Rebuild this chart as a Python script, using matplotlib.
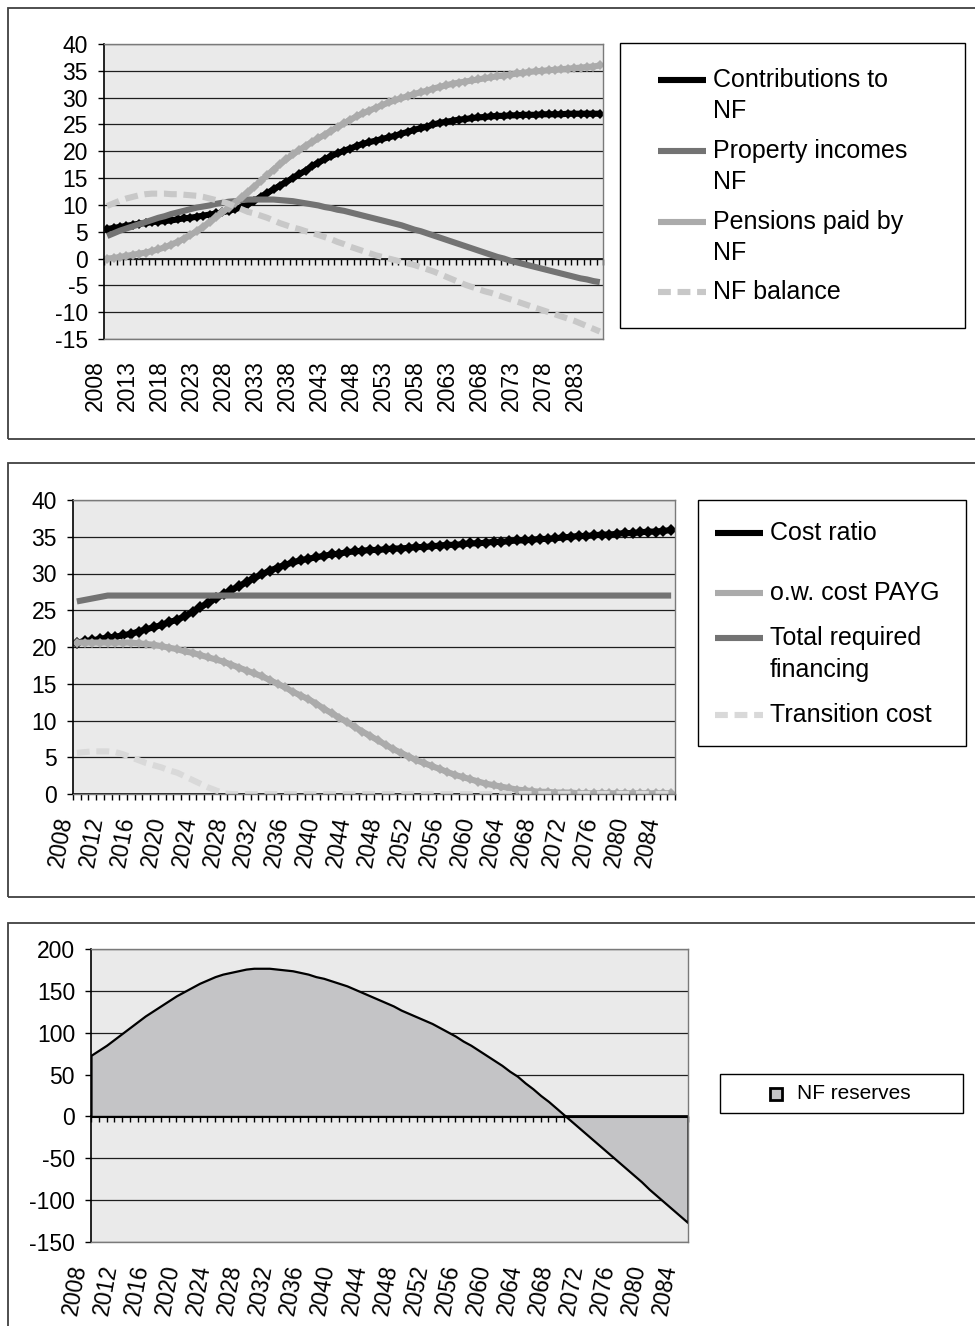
import numpy as np
import matplotlib
matplotlib.use("Agg")
import matplotlib.pyplot as plt
from matplotlib.patches import Rectangle
from matplotlib.lines import Line2D

plt.rcParams['font.family'] = ['Liberation Sans', 'DejaVu Sans']
plt.rcParams['axes.unicode_minus'] = False

# ---------------- data ----------------
years = np.arange(2008, 2086)

contributions_nf = [
    5.5, 5.7, 5.9, 6.1, 6.3, 6.5, 6.6, 6.8, 6.9, 7.0,
    7.1, 7.3, 7.5, 7.6, 7.8, 8.0, 8.2, 8.4, 8.6, 8.9,
    9.2, 9.6, 10.1, 10.8, 11.5, 12.2, 12.9, 13.6, 14.3, 15.0,
    15.7, 16.4, 17.2, 17.9, 18.5, 19.1, 19.6, 20.1, 20.5, 21.0,
    21.4, 21.7, 22.0, 22.3, 22.6, 22.9, 23.3, 23.6, 24.0, 24.3,
    24.6, 25.0, 25.3, 25.5, 25.7, 25.9, 26.0, 26.2, 26.3, 26.4,
    26.5, 26.6, 26.6, 26.7, 26.7, 26.8, 26.8, 26.8, 26.9, 26.9,
    26.9, 26.9, 27.0, 27.0, 27.0, 27.0, 27.0, 27.0]

property_incomes_nf = [
    4.2, 4.7, 5.2, 5.6, 6.0, 6.4, 6.8, 7.2, 7.6, 7.9,
    8.3, 8.6, 8.9, 9.2, 9.5, 9.7, 9.9, 10.2, 10.4, 10.6,
    10.7, 10.9, 11.0, 11.0, 11.0, 11.0, 11.0, 10.9, 10.8, 10.7,
    10.5, 10.3, 10.1, 9.9, 9.6, 9.4, 9.1, 8.9, 8.6, 8.3,
    8.0, 7.7, 7.4, 7.1, 6.8, 6.5, 6.2, 5.8, 5.4, 5.1,
    4.7, 4.3, 3.9, 3.5, 3.1, 2.7, 2.3, 1.9, 1.5, 1.1,
    0.7, 0.3, 0.0, -0.4, -0.7, -1.0, -1.3, -1.6, -1.9, -2.2,
    -2.5, -2.8, -3.1, -3.4, -3.7, -3.9, -4.2, -4.4]

pensions_paid_nf = [
    0.0, 0.1, 0.3, 0.5, 0.7, 0.9, 1.1, 1.4, 1.7, 2.1,
    2.6, 3.1, 3.7, 4.4, 5.1, 5.9, 6.8, 7.7, 8.6, 9.5,
    10.4, 11.4, 12.4, 13.4, 14.5, 15.5, 16.6, 17.6, 18.5, 19.4,
    20.2, 21.0, 21.7, 22.4, 23.1, 23.8, 24.5, 25.2, 25.9, 26.5,
    27.1, 27.6, 28.1, 28.6, 29.1, 29.5, 29.9, 30.3, 30.7, 31.0,
    31.3, 31.7, 32.0, 32.3, 32.6, 32.8, 33.0, 33.2, 33.4, 33.6,
    33.8, 34.0, 34.1, 34.3, 34.5, 34.6, 34.8, 34.9, 35.0, 35.1,
    35.2, 35.3, 35.4, 35.5, 35.6, 35.7, 35.8, 36.0]

nf_balance = [
    9.8, 10.3, 10.8, 11.2, 11.5, 11.8, 12.0, 12.1, 12.1, 12.1,
    12.0, 12.0, 11.9, 11.8, 11.7, 11.5, 11.2, 10.9, 10.6, 10.2,
    9.7, 9.2, 8.7, 8.4, 8.0, 7.6, 7.1, 6.6, 6.2, 5.8,
    5.5, 5.1, 4.8, 4.4, 4.0, 3.6, 3.1, 2.7, 2.2, 1.8,
    1.4, 1.0, 0.6, 0.3, 0.0, -0.3, -0.6, -0.9, -1.2, -1.6,
    -2.0, -2.4, -2.9, -3.4, -3.9, -4.4, -4.9, -5.3, -5.7, -6.1,
    -6.4, -6.8, -7.2, -7.6, -8.0, -8.4, -8.8, -9.2, -9.6, -10.0,
    -10.4, -10.8, -11.2, -11.6, -12.1, -12.6, -13.1, -13.6]

cost_ratio = [
    20.6, 20.8, 20.9, 21.1, 21.3, 21.4, 21.6, 21.8, 22.1, 22.4,
    22.7, 23.0, 23.4, 23.7, 24.2, 24.8, 25.4, 26.0, 26.6, 27.2,
    27.7, 28.3, 28.8, 29.4, 29.9, 30.4, 30.8, 31.2, 31.5, 31.8,
    32.0, 32.2, 32.4, 32.6, 32.7, 32.9, 33.0, 33.1, 33.2, 33.2,
    33.3, 33.4, 33.4, 33.5, 33.6, 33.6, 33.7, 33.8, 33.9, 33.9,
    34.0, 34.1, 34.1, 34.2, 34.3, 34.3, 34.4, 34.5, 34.5, 34.6,
    34.7, 34.7, 34.8, 34.9, 35.0, 35.1, 35.1, 35.2, 35.3, 35.3,
    35.4, 35.5, 35.5, 35.6, 35.7, 35.7, 35.8, 35.9]

cost_payg = [
    20.6, 20.6, 20.6, 20.6, 20.6, 20.6, 20.6, 20.6, 20.5, 20.4,
    20.3, 20.1, 19.9, 19.7, 19.4, 19.2, 18.9, 18.6, 18.3, 18.0,
    17.6, 17.2, 16.8, 16.4, 16.0, 15.5, 15.0, 14.5, 13.9, 13.4,
    12.9, 12.3, 11.6, 11.0, 10.4, 9.8, 9.1, 8.5, 7.9, 7.3,
    6.7, 6.1, 5.6, 5.1, 4.6, 4.2, 3.8, 3.4, 3.0, 2.6,
    2.3, 2.0, 1.7, 1.4, 1.2, 1.0, 0.8, 0.6, 0.5, 0.4,
    0.3, 0.3, 0.2, 0.2, 0.2, 0.1, 0.1, 0.1, 0.1, 0.1,
    0.1, 0.1, 0.1, 0.1, 0.1, 0.1, 0.1, 0.1]

total_required_financing = [
    26.2, 26.4, 26.6, 26.8, 27.0, 27.0, 27.0, 27.0, 27.0, 27.0,
    27.0, 27.0, 27.0, 27.0, 27.0, 27.0, 27.0, 27.0, 27.0, 27.0,
    27.0, 27.0, 27.0, 27.0, 27.0, 27.0, 27.0, 27.0, 27.0, 27.0,
    27.0, 27.0, 27.0, 27.0, 27.0, 27.0, 27.0, 27.0, 27.0, 27.0,
    27.0, 27.0, 27.0, 27.0, 27.0, 27.0, 27.0, 27.0, 27.0, 27.0,
    27.0, 27.0, 27.0, 27.0, 27.0, 27.0, 27.0, 27.0, 27.0, 27.0,
    27.0, 27.0, 27.0, 27.0, 27.0, 27.0, 27.0, 27.0, 27.0, 27.0,
    27.0, 27.0, 27.0, 27.0, 27.0, 27.0, 27.0, 27.0]

transition_cost = [
    5.6, 5.7, 5.8, 5.8, 5.8, 5.7, 5.4, 5.0, 4.6, 4.2,
    3.9, 3.6, 3.2, 2.9, 2.4, 1.9, 1.4, 0.9, 0.5, 0.1,
    0.0, 0.0, 0.0, 0.0, 0.0, 0.0, 0.0, 0.0, 0.0, 0.0,
    0.0, 0.0, 0.0, 0.0, 0.0, 0.0, 0.0, 0.0, 0.0, 0.0,
    0.0, 0.0, 0.0, 0.0, 0.0, 0.0, 0.0, 0.0, 0.0, 0.0,
    0.0, 0.0, 0.0, 0.0, 0.0, 0.0, 0.0, 0.0, 0.0, 0.0,
    0.0, 0.0, 0.0, 0.0, 0.0, 0.0, 0.0, 0.0, 0.0, 0.0,
    0.0, 0.0, 0.0, 0.0, 0.0, 0.0, 0.0, 0.0]

nf_reserves = [
    73, 79, 85, 92, 99, 106, 113, 120, 126, 132,
    138, 144, 149, 154, 159, 163, 167, 170, 172, 174,
    176, 177, 177, 177, 176, 175, 174, 172, 170, 167,
    165, 162, 159, 156, 152, 148, 144, 140, 136, 132,
    127, 123, 119, 115, 111, 106, 101, 96, 90, 85,
    79, 73, 67, 61, 54, 48, 40, 33, 25, 18,
    10, 2, -6, -14, -22, -30, -38, -46, -54, -62,
    -70, -78, -87, -95, -103, -111, -119, -127]

labels_p1 = ['Contributions to\nNF', 'Property incomes\nNF', 'Pensions paid by\nNF', 'NF balance']
labels_p2 = ['Cost ratio', 'o.w. cost PAYG', 'Total required\nfinancing', 'Transition cost']
label_p3 = 'NF reserves'

# ---------------- layout helpers ----------------
W, H = 975, 1326
fig = plt.figure(figsize=(W / 100, H / 100), dpi=100)


def fx(x):
    return x / W


def fy(y):
    return 1 - y / H


def axes_px(x0, y0, x1, y1):
    return fig.add_axes([x0 / W, 1 - y1 / H, (x1 - x0) / W, (y1 - y0) / H])


def frame(x0, y0, x1, y1, ec='#404040', lw=1.3):
    fig.add_artist(Rectangle((fx(x0), fy(y1)), (x1 - x0) / W, (y1 - y0) / H,
                             transform=fig.transFigure, facecolor='none',
                             edgecolor=ec, lw=lw, zorder=0))


BG = '#EAEAEA'
TICK_FS = 16.5
LEG_FS = 18


def style_axes(ax, ylim, ystep, label_years, cat_ticks, rot, xlim):
    ax.set_facecolor(BG)
    ax.set_xlim(*xlim)
    ax.set_ylim(*ylim)
    ax.set_yticks(np.arange(ylim[0], ylim[1] + ystep / 2, ystep))
    ax.yaxis.grid(True, color='#1e1e1e', lw=0.9)
    ax.set_axisbelow(True)
    for s in ['top', 'right', 'bottom']:
        ax.spines[s].set_color('#7a7a7a')
        ax.spines[s].set_linewidth(1.0)
    ax.spines['left'].set_color('black')
    ax.spines['left'].set_linewidth(1.2)
    ax.tick_params(axis='y', direction='out', length=4.5, width=1.0,
                   pad=7, labelsize=TICK_FS, colors='black')
    ax.set_xticks(label_years)
    ax.set_xticklabels([str(y) for y in label_years], rotation=rot,
                       ha='right', va='top')
    ax.tick_params(axis='x', length=0, pad=15, labelsize=TICK_FS)
    sec = ax.secondary_xaxis(0, transform=ax.transData)
    sec.set_xticks(cat_ticks)
    sec.tick_params(axis='x', direction='out', length=4.5, width=1.0,
                    color='black', labelbottom=False, labeltop=False)
    for s in sec.spines.values():
        s.set_color('black')
        s.set_linewidth(1.2)
    return sec


def legend_lines(entries, hx0, hx1, tx, line_gap, fs):
    for y, lines, kw in entries:
        fig.add_artist(Line2D([fx(hx0), fx(hx1)], [fy(y), fy(y)],
                              transform=fig.transFigure, **kw))
        for i, t in enumerate(lines):
            fig.text(fx(tx), fy(y + i * line_gap), t, fontsize=fs,
                     va='center', ha='left', color='black')


# ---------------- panel frames ----------------
frame(8, 8, 1000, 439)
frame(8, 463, 1000, 897)
frame(8, 923, 1000, 1345)

# ---------------- panel 1 ----------------
ax1 = axes_px(104, 44, 603, 339)
style_axes(ax1, (-15, 40), 5, years[::5], np.arange(2007.5, 2086, 1.0), 90,
           (2007.5, 2085.5))
LW = 4.4
st1 = [
    dict(color='black', lw=LW, solid_capstyle='butt'),
    dict(color='#737373', lw=LW, solid_capstyle='butt'),
    dict(color='#ababab', lw=LW, solid_capstyle='butt'),
    dict(color='#c8c8c8', lw=LW, ls=(0, (2.1, 1.1)), dash_capstyle='butt'),
]
ax1.plot(years, contributions_nf, marker='D', ms=4.8, mew=0, **st1[0])
ax1.plot(years, property_incomes_nf, **st1[1])
ax1.plot(years, pensions_paid_nf, marker='D', ms=4.8, mew=0, **st1[2])
ax1.plot(years, nf_balance, **st1[3])

fig.add_artist(Rectangle((fx(620), fy(328)), (965 - 620) / W, (328 - 43) / H,
                         transform=fig.transFigure, facecolor='white',
                         edgecolor='black', lw=1.0))
legend_lines([(80, labels_p1[0].split('\n'), st1[0]),
              (151, labels_p1[1].split('\n'), st1[1]),
              (222, labels_p1[2].split('\n'), st1[2]),
              (292, labels_p1[3].split('\n'), st1[3])],
             658, 706, 713, 31, LEG_FS)

# ---------------- panel 2 ----------------
ax2 = axes_px(73, 500, 675, 794)
style_axes(ax2, (0, 40), 5, years[::4], np.arange(2007.5, 2086, 1.0), 80,
           (2007.5, 2085.5))
st2 = [
    dict(color='black', lw=LW, solid_capstyle='butt'),
    dict(color='#ababab', lw=LW, solid_capstyle='butt'),
    dict(color='#737373', lw=LW, solid_capstyle='butt'),
    dict(color='#d9d9d9', lw=LW, ls=(0, (2.1, 1.1)), dash_capstyle='butt'),
]
ax2.plot(years, cost_ratio, marker='D', ms=6, mew=0, **st2[0])
ax2.plot(years, cost_payg, marker='D', ms=4.8, mew=0, **st2[1])
ax2.plot(years, total_required_financing, **st2[2])
ax2.plot(years, transition_cost, **st2[3])

fig.add_artist(Rectangle((fx(698), fy(746)), (966 - 698) / W, (746 - 500) / H,
                         transform=fig.transFigure, facecolor='white',
                         edgecolor='black', lw=1.0))
legend_lines([(533, labels_p2[0].split('\n'), st2[0]),
              (593, labels_p2[1].split('\n'), st2[1]),
              (638, labels_p2[2].split('\n'), st2[2]),
              (715, labels_p2[3].split('\n'), st2[3])],
             715, 763, 770, 32, LEG_FS)

# ---------------- panel 3 ----------------
ax3 = axes_px(91, 949, 688, 1242)
style_axes(ax3, (-150, 200), 50, years[::4], years, 80, (2008, 2085))
ax3.fill_between(years, nf_reserves, 0, facecolor='#c4c4c6',
                 edgecolor='black', lw=1.6, zorder=2)

fig.add_artist(Rectangle((fx(720), fy(1113)), (963 - 720) / W, (1113 - 1074) / H,
                         transform=fig.transFigure, facecolor='white',
                         edgecolor='black', lw=1.0))
fig.add_artist(Rectangle((fx(770), fy(1100)), 12 / W, 12 / H,
                         transform=fig.transFigure, facecolor='#c4c4c6',
                         edgecolor='black', lw=2.0))
fig.text(fx(797), fy(1093.5), label_p3, fontsize=15, va='center', ha='left')

fig.savefig('out.png', dpi=100)
